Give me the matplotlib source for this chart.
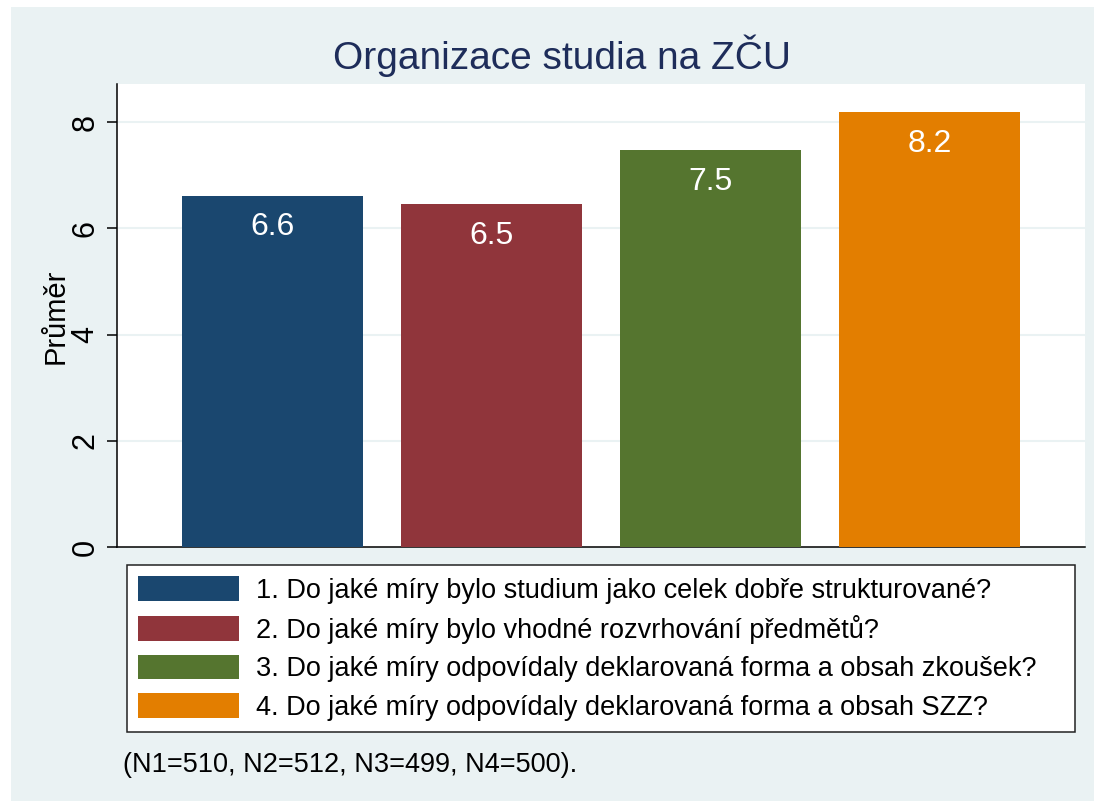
import matplotlib.pyplot as plt
from matplotlib.patches import Rectangle

plt.rcParams['font.family'] = ['Liberation Sans', 'DejaVu Sans']

# data
questions = [
    '1. Do jaké míry bylo studium jako celek dobře strukturované?',
    '2. Do jaké míry bylo vhodné rozvrhování předmětů?',
    '3. Do jaké míry odpovídaly deklarovaná forma a obsah zkoušek?',
    '4. Do jaké míry odpovídaly deklarovaná forma a obsah SZZ?',
]
means = [6.62, 6.46, 7.48, 8.19]
yticks = [0, 2, 4, 6, 8]
title = 'Organizace studia na ZČU'
ylabel = 'Průměr'
note = '(N1=510, N2=512, N3=499, N4=500).'

colors = ['#1A476F', '#90353B', '#55752F', '#E37E00']
bg = '#EAF2F3'

W, H = 1094, 801
fig = plt.figure(figsize=(W/100, H/100), dpi=100)
fig.patch.set_facecolor('white')
fig.patches.append(Rectangle((11/W, 0), 1 - 11/W, (H-7)/H, transform=fig.transFigure,
                             facecolor=bg, edgecolor='none', zorder=-10))

# plot area in pixels: x 117..1085, y 84..547
ax = fig.add_axes([117/W, (H-547)/H, (1085-117)/W, (547-84)/H])
ax.set_facecolor('white')

bars = []
for i in range(len(means)):
    b = ax.bar(i, means[i], width=0.826, color=colors[i], edgecolor='none',
               zorder=3, label=questions[i])
    bars.append(b)
    ax.annotate(f'{means[i]:.1f}', (i, means[i]), xytext=(0, -12),
                textcoords='offset points', ha='center', va='top',
                color='white', fontsize=23, zorder=4)

ax.set_xlim(-0.71, 3.71)
ax.set_ylim(0, 8.72)
ax.set_xticks([])
ax.set_yticks(yticks)
ax.set_yticklabels([str(t) for t in yticks], rotation=90, va='center', fontsize=22)
ax.tick_params(axis='y', length=7.2, width=1.1, pad=4.5)
for t in yticks[1:]:
    ax.axhline(t, color=bg, lw=1.5, zorder=1)
for s in ['top', 'right']:
    ax.spines[s].set_visible(False)
for s in ['left', 'bottom']:
    ax.spines[s].set_linewidth(1.1)
    ax.spines[s].set_color('black')

fig.text(56/W, (H-316)/H, ylabel, rotation=90, ha='center', va='center', fontsize=21)
fig.text(562/W, (H-69)/H, title, ha='center', va='baseline', fontsize=28, color='#1E2D5A')

leg = fig.legend(handles=[b[0] for b in bars], labels=questions,
                 loc='upper left', mode='expand',
                 bbox_to_anchor=(126.7/W, (H-565)/H - 0.01, (1074.7-126.7)/W, 0.01),
                 fontsize=19.5, handlelength=3.74, handleheight=1.0,
                 handletextpad=0.6, labelspacing=0.41, borderpad=0.42,
                 borderaxespad=0, fancybox=False, framealpha=1)
leg.get_frame().set_edgecolor('#222222')
leg.get_frame().set_linewidth(1.1)

fig.text(122.7/W, (H-771.7)/H, note, ha='left', va='baseline', fontsize=19.5)

plt.savefig('out.png', dpi=100)
